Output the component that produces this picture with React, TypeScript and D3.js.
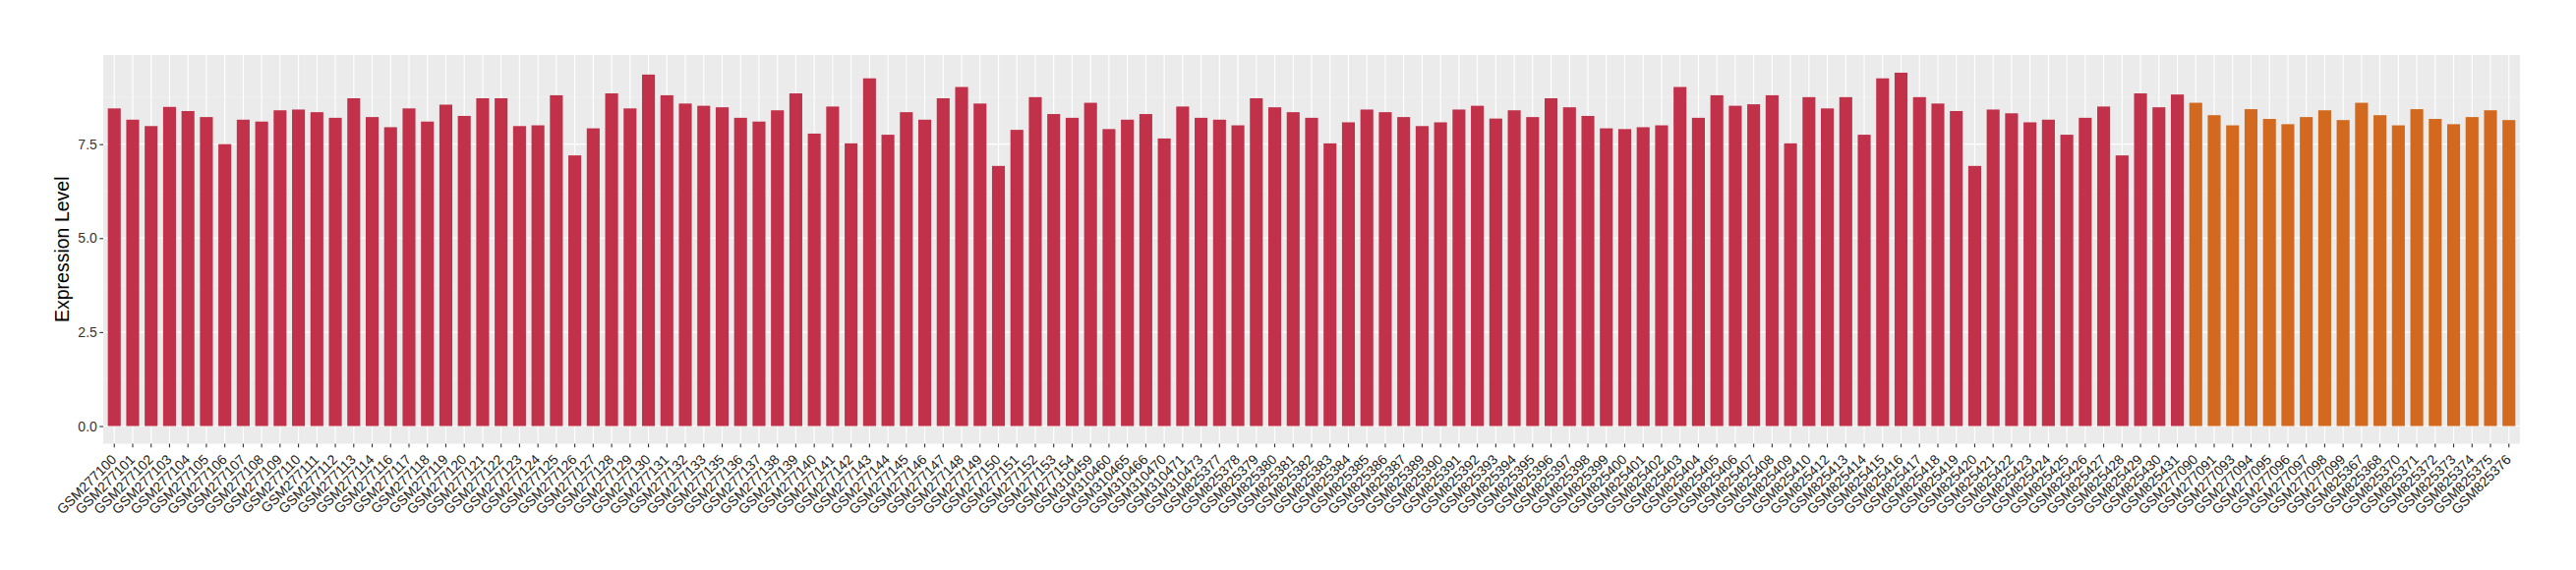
import React, { useRef, useEffect } from "react";
import * as d3 from "d3";

// sample ids, first group (red)
const redSamples = [
  "GSM277100", "GSM277101", "GSM277102", "GSM277103", "GSM277104", "GSM277105", "GSM277106", "GSM277107",
  "GSM277108", "GSM277109", "GSM277110", "GSM277111", "GSM277112", "GSM277113", "GSM277114", "GSM277116",
  "GSM277117", "GSM277118", "GSM277119", "GSM277120", "GSM277121", "GSM277122", "GSM277123", "GSM277124",
  "GSM277125", "GSM277126", "GSM277127", "GSM277128", "GSM277129", "GSM277130", "GSM277131", "GSM277132",
  "GSM277133", "GSM277135", "GSM277136", "GSM277137", "GSM277138", "GSM277139", "GSM277140", "GSM277141",
  "GSM277142", "GSM277143", "GSM277144", "GSM277145", "GSM277146", "GSM277147", "GSM277148", "GSM277149",
  "GSM277150", "GSM277151", "GSM277152", "GSM277153", "GSM277154", "GSM310459", "GSM310460", "GSM310465",
  "GSM310466", "GSM310470", "GSM310471", "GSM310473", "GSM825377", "GSM825378", "GSM825379", "GSM825380",
  "GSM825381", "GSM825382", "GSM825383", "GSM825384", "GSM825385", "GSM825386", "GSM825387", "GSM825389",
  "GSM825390", "GSM825391", "GSM825392", "GSM825393", "GSM825394", "GSM825395", "GSM825396", "GSM825397",
  "GSM825398", "GSM825399", "GSM825400", "GSM825401", "GSM825402", "GSM825403", "GSM825404", "GSM825405",
  "GSM825406", "GSM825407", "GSM825408", "GSM825409", "GSM825410", "GSM825412", "GSM825413", "GSM825414",
  "GSM825415", "GSM825416", "GSM825417", "GSM825418", "GSM825419", "GSM825420", "GSM825421", "GSM825422",
  "GSM825423", "GSM825424", "GSM825425", "GSM825426", "GSM825427", "GSM825428", "GSM825429", "GSM825430",
  "GSM825431",
];

const redValues = [
  8.45, 8.15, 7.98, 8.49, 8.38, 8.22, 7.5, 8.15, 8.1, 8.4, 8.42, 8.35, 8.2, 8.72, 8.22, 7.95,
  8.45, 8.1, 8.55, 8.25, 8.72, 8.72, 7.98, 8.0, 8.8, 7.2, 7.92, 8.85, 8.45, 9.35, 8.8, 8.58,
  8.52, 8.48, 8.2, 8.1, 8.4, 8.85, 7.78, 8.5, 7.52, 9.25, 7.75, 8.35, 8.15, 8.72, 9.02, 8.58,
  6.92, 7.88, 8.75, 8.3, 8.2, 8.6, 7.9, 8.15, 8.3, 7.65, 8.5, 8.2, 8.15, 8.0, 8.72, 8.48,
  8.35, 8.2, 7.52, 8.08, 8.42, 8.35, 8.22, 7.98, 8.08, 8.42, 8.52, 8.18, 8.4, 8.22, 8.72, 8.48,
  8.25, 7.92, 7.9, 7.95, 8.0, 9.02, 8.2, 8.8, 8.52, 8.56, 8.8, 7.52, 8.75, 8.45, 8.75, 7.75,
  9.25, 9.4, 8.75, 8.58, 8.38, 6.92, 8.42, 8.32, 8.08, 8.15, 7.75, 8.2, 8.5, 7.2, 8.85, 8.48,
  8.82,
];

// sample ids, second group (orange)
const orangeSamples = [
  "GSM277090", "GSM277091", "GSM277093", "GSM277094", "GSM277095", "GSM277096", "GSM277097", "GSM277098",
  "GSM277099", "GSM825367", "GSM825368", "GSM825370", "GSM825371", "GSM825372", "GSM825373", "GSM825374",
  "GSM825375", "GSM825376",
];

const orangeValues = [
  8.6, 8.27, 8.0, 8.43, 8.17, 8.03, 8.22, 8.4, 8.14, 8.6, 8.27, 8.0, 8.43, 8.17, 8.03, 8.22, 8.4, 8.14,
];

const yTicks = [0, 2.5, 5, 7.5];
const yMinorTicks = [1.25, 3.75, 6.25, 8.75];

const RED = "#C2314A";
const ORANGE = "#D2691E";

const App: React.FC = () => {
  const chartRef = useRef<SVGSVGElement | null>(null);

  useEffect(() => {
    if (!chartRef.current) return;
    const svg = d3.select(chartRef.current);
    svg.selectAll("*").remove();

    const width = 2620;
    const height = 580;
    const margin = { top: 56, right: 57, bottom: 128.5, left: 105 };
    const font = "'Liberation Sans', Arial, Helvetica, sans-serif";

    const data = [
      ...redSamples.map((s, i) => ({ sample: s, value: redValues[i], color: RED })),
      ...orangeSamples.map((s, i) => ({ sample: s, value: orangeValues[i], color: ORANGE })),
    ];

    const maxV = d3.max(data, (d) => d.value) || 0;

    const x = d3
      .scaleBand()
      .domain(data.map((d) => d.sample))
      .range([margin.left, width - margin.right])
      .paddingInner(0.3)
      .paddingOuter(0.25);

    const y = d3
      .scaleLinear()
      .domain([-0.05 * maxV, 1.05 * maxV])
      .range([height - margin.bottom, margin.top]);

    const panelBottom = height - margin.bottom;

    // panel
    svg
      .append("rect")
      .attr("x", margin.left)
      .attr("y", margin.top)
      .attr("width", width - margin.right - margin.left)
      .attr("height", panelBottom - margin.top)
      .attr("fill", "#EBEBEB");

    svg
      .append("g")
      .selectAll("line")
      .data(yMinorTicks)
      .enter()
      .append("line")
      .attr("x1", margin.left)
      .attr("x2", width - margin.right)
      .attr("y1", (d) => y(d))
      .attr("y2", (d) => y(d))
      .attr("stroke", "#F5F5F5")
      .attr("stroke-width", 0.55);

    svg
      .append("g")
      .selectAll("line")
      .data(yTicks)
      .enter()
      .append("line")
      .attr("x1", margin.left)
      .attr("x2", width - margin.right)
      .attr("y1", (d) => y(d))
      .attr("y2", (d) => y(d))
      .attr("stroke", "#FFFFFF")
      .attr("stroke-width", 1.1);

    svg
      .append("g")
      .selectAll("line")
      .data(data)
      .enter()
      .append("line")
      .attr("x1", (d) => (x(d.sample) || 0) + x.bandwidth() / 2)
      .attr("x2", (d) => (x(d.sample) || 0) + x.bandwidth() / 2)
      .attr("y1", margin.top)
      .attr("y2", panelBottom)
      .attr("stroke", "#FFFFFF")
      .attr("stroke-width", 1.1);

    // bars
    svg
      .append("g")
      .selectAll("rect")
      .data(data)
      .enter()
      .append("rect")
      .attr("x", (d) => x(d.sample) || 0)
      .attr("y", (d) => y(d.value))
      .attr("width", x.bandwidth())
      .attr("height", (d) => y(0) - y(d.value))
      .attr("fill", (d) => d.color);

    // y axis
    const yAxis = svg
      .append("g")
      .attr("transform", `translate(${margin.left},0)`)
      .call(
        d3
          .axisLeft(y)
          .tickValues(yTicks)
          .tickSize(3.7)
          .tickPadding(2.5)
          .tickFormat(d3.format(".1f"))
      );
    yAxis.select(".domain").remove();
    yAxis.selectAll(".tick line").attr("stroke", "#333333").attr("stroke-width", 1.1);
    yAxis
      .selectAll(".tick text")
      .attr("fill", "#333333")
      .style("font-family", font)
      .style("font-size", "14px");

    // x axis
    const xAxis = svg
      .append("g")
      .attr("transform", `translate(0,${panelBottom})`)
      .call(d3.axisBottom(x).tickSize(3.7).tickPadding(0));
    xAxis.select(".domain").remove();
    xAxis.selectAll(".tick line").attr("stroke", "#333333").attr("stroke-width", 1.1);
    xAxis
      .selectAll(".tick text")
      .attr("fill", "#222222")
      .attr("y", 0)
      .attr("dy", 0)
      .attr("text-anchor", "end")
      .attr("transform", "translate(3,17) rotate(-45)")
      .style("font-family", font)
      .style("font-size", "14px");

    // axis title
    svg
      .append("text")
      .attr("transform", `translate(70,${(margin.top + panelBottom) / 2}) rotate(-90)`)
      .attr("text-anchor", "middle")
      .attr("fill", "#000000")
      .style("font-family", font)
      .style("font-size", "19.5px")
      .text("Expression Level");
  }, []);

  return (
    <svg
      ref={chartRef}
      width={2620}
      height={580}
      style={{ position: "absolute", left: 0, top: 0, background: "#FFFFFF" }}
    />
  );
};

export default App;
